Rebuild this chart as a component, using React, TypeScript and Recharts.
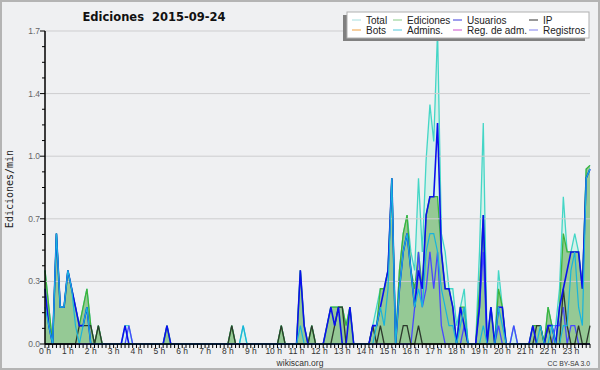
import React from 'react';
import { ComposedChart, Area, Line, XAxis, YAxis, ReferenceLine } from 'recharts';

// hour labels of the x axis (one tick per 10-minute bin, label every hour)
const hourLabels = ['0 h','1 h','2 h','3 h','4 h','5 h','6 h','7 h','8 h','9 h','10 h','11 h',
  '12 h','13 h','14 h','15 h','16 h','17 h','18 h','19 h','20 h','21 h','22 h','23 h'];

// edits per minute, one value per 10-minute bin (6 per hour row)
const total = [
  0.4,0.2,0,0.6,0.2,0.2,  0.4,0.3,0.2,0.1,0.2,0.3,  0.1,0,0.1,0,0,0,  0,0,0,0.1,0.1,0,
  0,0,0,0,0,0,  0,0,0.1,0,0,0,  0,0,0,0,0,0,  0,0,0,0,0,0,
  0,0.1,0,0,0.1,0,  0,0,0,0,0,0,  0,0,0.1,0,0,0,  0,0.4,0.1,0,0.1,0,
  0,0,0.1,0.2,0.2,0.2,  0.2,0.1,0.2,0,0,0,  0,0,0.1,0.2,0.3,0.3,  0.4,0.9,0,0.4,0.6,0.7,
  0.5,0.4,0.9,0.5,1.0,1.3,  1.1,1.7,0.6,0.5,0.3,0.3,  0.1,0.2,0.3,0,0,0,  0.5,1.2,0,0.2,0,0.4,
  0.2,0,0,0.1,0,0,  0,0,0.1,0.1,0.1,0,  0.2,0.1,0.1,0.3,0.8,0.5,  0.5,0.6,0.5,0.3,0.95,0.97,
];
const ediciones = [
  0.4,0.2,0,0.6,0.2,0.2,  0.4,0.3,0.2,0.1,0.2,0.3,  0.1,0,0.1,0,0,0,  0,0,0,0,0,0,
  0,0,0,0,0,0,  0,0,0.1,0,0,0,  0,0,0,0,0,0,  0,0,0,0,0,0,
  0,0.1,0,0,0,0,  0,0,0,0,0,0,  0,0,0.1,0,0,0,  0,0.4,0.1,0,0.1,0,
  0,0,0.1,0.2,0.2,0.2,  0.2,0.1,0.2,0,0,0,  0,0,0.1,0.1,0.3,0.3,  0.4,0.9,0,0.4,0.6,0.7,
  0.4,0.3,0.5,0.3,0.7,0.8,  0.8,0.8,0.5,0.3,0.3,0.2,  0,0.2,0.2,0,0,0,  0.3,0.7,0,0.2,0,0.3,
  0.2,0,0,0,0,0,  0,0,0.1,0.1,0.1,0,  0.2,0.1,0,0.2,0.6,0.5,  0.5,0.5,0.5,0.3,0.95,0.97,
];
const usuarios = [
  0.3,0.1,0,0.6,0.2,0.2,  0.4,0.3,0.2,0.1,0.1,0.2,  0,0,0,0,0,0,  0,0,0,0.1,0,0,
  0,0,0,0,0,0,  0,0,0.1,0,0,0,  0,0,0,0,0,0,  0,0,0,0,0,0,
  0,0,0,0,0,0,  0,0,0,0,0,0,  0,0,0,0,0,0,  0,0.4,0.1,0,0,0,
  0,0,0.1,0.2,0.1,0.2,  0,0,0.2,0,0,0,  0,0,0.1,0.1,0.2,0.3,  0.4,0.9,0,0.3,0.5,0.6,
  0.4,0.2,0.4,0.3,0.7,0.8,  0.8,1.2,0.5,0.3,0.3,0.2,  0,0.2,0.1,0,0,0,  0.2,0.7,0,0.2,0,0.2,
  0.2,0,0,0,0,0,  0,0,0.1,0,0,0,  0.1,0.1,0,0.2,0.3,0.4,  0.5,0.5,0.5,0.3,0.9,0.95,
];
const ip = [
  0,0,0,0,0,0,  0,0,0,0.1,0.1,0.1,  0.1,0,0.1,0,0,0,  0,0,0,0,0,0,
  0,0,0,0,0,0,  0,0,0,0,0,0,  0,0,0,0,0,0,  0,0,0,0,0,0,
  0,0.1,0,0,0,0,  0,0,0,0,0,0,  0,0,0.1,0,0,0,  0,0,0,0,0.1,0,
  0,0,0,0,0.1,0.2,  0.2,0,0,0,0,0,  0,0,0.1,0,0.1,0,  0,0,0,0,0.1,0.1,
  0,0,0.1,0,0,0,  0,0,0,0,0,0,  0,0,0,0,0,0,  0,0,0,0,0,0,
  0,0,0,0,0,0,  0,0,0,0.1,0.1,0,  0.1,0,0,0,0.3,0.1,  0,0,0.1,0,0,0.1,
];
const admins = [
  0.2,0.1,0,0.6,0.2,0.2,  0.4,0.3,0.1,0,0.1,0.2,  0,0,0,0,0,0,  0,0,0,0,0,0,
  0,0,0,0,0,0,  0,0,0,0,0,0,  0,0,0,0,0,0,  0,0,0,0,0,0,
  0,0,0,0,0.1,0,  0,0,0,0,0,0,  0,0,0,0,0,0,  0,0.1,0,0,0,0,
  0,0,0,0,0,0,  0,0,0,0,0,0,  0,0,0,0.1,0.2,0.1,  0.3,0.9,0,0.3,0.5,0.6,
  0.4,0.2,0.3,0.2,0.5,0.6,  0.6,0.5,0.3,0.2,0.1,0.1,  0,0.1,0.2,0,0,0,  0,0.1,0,0,0,0.2,
  0.1,0,0,0,0,0,  0,0,0,0,0.1,0,  0,0.1,0,0,0.1,0.1,  0.4,0.5,0.2,0.1,0.9,0.95,
];
const registros = [
  0,0,0,0,0,0,  0,0,0,0,0,0,  0,0,0,0,0,0,  0,0,0,0,0.1,0,
  0,0,0,0,0,0,  0,0,0,0,0,0,  0,0,0,0,0,0,  0,0,0,0,0,0,
  0,0,0,0,0,0,  0,0,0,0,0,0,  0,0,0,0,0,0,  0,0,0,0,0,0,
  0,0,0,0,0,0,  0,0,0,0,0,0,  0,0,0,0,0,0,  0,0,0,0,0,0,
  0,0.2,0.5,0.2,0.3,0.5,  0.3,0.5,0.1,0,0,0,  0,0,0.1,0,0,0,  0.2,0.5,0,0,0,0.1,
  0,0,0,0.1,0,0,  0,0,0,0,0,0,  0,0,0.1,0.1,0.2,0,  0.1,0.1,0,0,0,0,
];

const yMajor = [0, 0.34, 0.68, 1.02, 1.36, 1.7];
const yMajorLabels = ['0.0', '0.3', '0.7', '1.0', '1.4', '1.7'];
const yTicks = Array.from({ length: 21 }, (_, k) => Math.round(k * 0.085 * 1000) / 1000);
const xTicks = total.map((_, i) => i);

const legendItems = [
  { name: 'Total', color: '#a6dede' },
  { name: 'Ediciones', color: '#88cc88' },
  { name: 'Usuarios', color: '#3c3cdc' },
  { name: 'IP', color: '#333333' },
  { name: 'Bots', color: '#f0a040' },
  { name: 'Admins.', color: '#50c8dc' },
  { name: 'Reg. de adm.', color: '#cc50cc' },
  { name: 'Registros', color: '#8080ee' },
];

const data = total.map((t, i) => ({
  i,
  total: t,
  ediciones: ediciones[i],
  usuarios: usuarios[i],
  ip: ip[i],
  admins: admins[i],
  registros: registros[i],
}));

const FONT = '"Liberation Sans", Arial, sans-serif';

const XTick = (props: any) => {
  const { x, y, payload } = props;
  const v = payload.value as number;
  const isHour = v % 6 === 0;
  return (
    <g>
      <line x1={x} y1={y} x2={x} y2={y + 4} stroke="#000" strokeWidth={1} />
      {isHour && (
        <text x={x} y={y + 10} textAnchor="middle" fontSize={8.5} fontFamily={FONT} fill="#333">
          {hourLabels[v / 6]}
        </text>
      )}
    </g>
  );
};

const YTick = (props: any) => {
  const { x, y, payload } = props;
  const idx = yMajor.findIndex((m) => Math.abs(m - payload.value) < 1e-6);
  const major = idx >= 0;
  return (
    <g>
      <line x1={x - (major ? 5 : 3)} y1={y} x2={x} y2={y} stroke="#000" strokeWidth={1} />
      {major && (
        <text x={x - 5} y={y + 3} textAnchor="end" fontSize={8.5} fontFamily={FONT} fill="#666">
          {yMajorLabels[idx]}
        </text>
      )}
    </g>
  );
};

const colX = [5, 46, 106, 182];

export default function App() {
  return (
    <div style={{ position: 'absolute', left: 0, top: 0, width: 600, height: 370, background: '#eff0f2' }}>
      <ComposedChart width={600} height={370} data={data} margin={{ top: 31, right: 10, bottom: 0, left: 0 }}>
        {yMajor.slice(1).map((v) => (
          <ReferenceLine key={v} y={v} stroke="#cdcdcf" strokeWidth={1} />
        ))}
        <Area type="linear" dataKey="total" stroke="#44d6c6" strokeWidth={1.3} fill="#d5f1ea" fillOpacity={1} isAnimationActive={false} dot={false} activeDot={false} />
        <Area type="linear" dataKey="ediciones" stroke="#3cb43c" strokeWidth={1.3} fill="#95c995" fillOpacity={1} isAnimationActive={false} dot={false} activeDot={false} />
        <Line type="linear" dataKey="registros" stroke="#4848ff" strokeWidth={1.3} dot={false} activeDot={false} isAnimationActive={false} />
        <Line type="linear" dataKey="ip" stroke="#2d3a2d" strokeWidth={1.3} dot={false} activeDot={false} isAnimationActive={false} />
        <Line type="linear" dataKey="usuarios" stroke="#0a10ee" strokeWidth={1.6} dot={false} activeDot={false} isAnimationActive={false} />
        <Line type="linear" dataKey="admins" stroke="#18b4dc" strokeWidth={1.2} dot={false} activeDot={false} isAnimationActive={false} />
        <XAxis
          dataKey="i"
          type="number"
          domain={[0, 143]}
          ticks={xTicks}
          interval={0}
          tick={<XTick />}
          tickLine={false}
          tickSize={0}
          tickMargin={0}
          height={26}
          stroke="#000"
          strokeWidth={1.5}
          allowDecimals={false}
        />
        <YAxis
          type="number"
          domain={[0, 1.7]}
          ticks={yTicks}
          interval={0}
          tick={<YTick />}
          tickLine={false}
          tickSize={0}
          tickMargin={0}
          width={45}
          stroke="#000"
          strokeWidth={1.5}
        />
      </ComposedChart>
      <svg width={600} height={370} style={{ position: 'absolute', left: 0, top: 0, pointerEvents: 'none' }}>
        <text x={154} y={21} textAnchor="middle" fontSize={11.5} fontWeight="bold" fontFamily='"DejaVu Sans", sans-serif' fill="#111" style={{ whiteSpace: 'pre' }}>
          {'Ediciones  2015-09-24'}
        </text>
        <text x={13} y={189} transform="rotate(-90 13 189)" textAnchor="middle" fontSize={10} fontFamily='"DejaVu Sans Mono", monospace' fill="#222">
          Ediciones/min
        </text>
        <text x={300} y={366} textAnchor="middle" fontSize={8.5} fontFamily={FONT} fill="#333">
          wikiscan.org
        </text>
        <text x={590} y={366} textAnchor="end" fontSize={6.8} fontFamily={FONT} fill="#333">
          CC BY-SA 3.0
        </text>
        <g transform="translate(343,12)">
          <rect x={0} y={3} width={242} height={26} fill="#808080" />
          <rect x={4} y={0} width={242} height={26} fill="#ffffff" stroke="#b0b0b0" strokeWidth={1} />
          {legendItems.map((it, k) => {
            const col = k % 4;
            const row = Math.floor(k / 4);
            const lx = 4 + colX[col];
            const ly = 8 + row * 10;
            return (
              <g key={it.name}>
                <line x1={lx} x2={lx + 9} y1={ly} y2={ly} stroke={it.color} strokeWidth={1} />
                <text x={lx + 14} y={ly + 3.5} fontSize={10} fontFamily={FONT} fill="#222">
                  {it.name}
                </text>
              </g>
            );
          })}
        </g>
        <rect x={1} y={1} width={598} height={368} fill="none" stroke="#b4b4b4" strokeWidth={2} />
      </svg>
    </div>
  );
}
